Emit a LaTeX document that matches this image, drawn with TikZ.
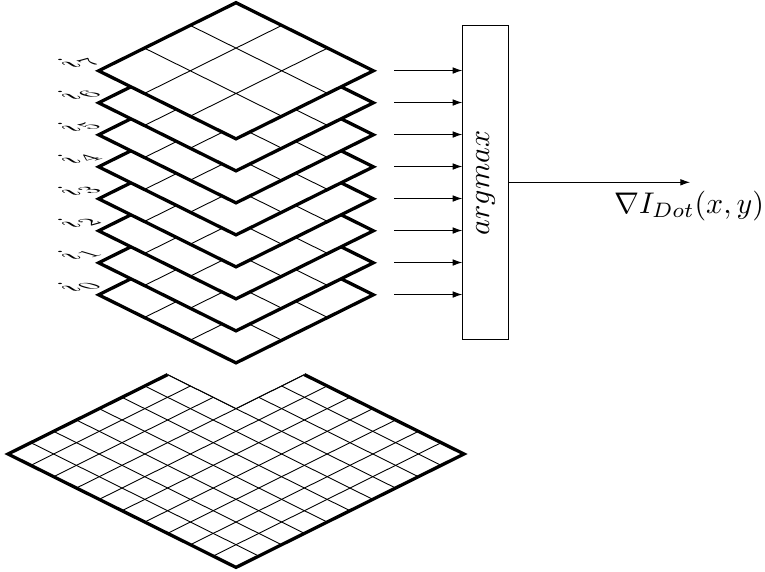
\documentclass[tikz,border=0pt]{standalone}
\usetikzlibrary{arrows.meta}

\begin{document}
\begin{tikzpicture}[x=0.11765mm,y=-0.11765mm,
          every node/.style={font=\normalsize},
          layeredge/.style={line width=1.1pt,line join=miter},
          gridline/.style={line width=0.3pt},
          feed/.style={line width=0.3pt,-{Latex[length=3.2pt,width=2.2pt]}},
          planelabel/.style={cm={1.15,0.32,-1.15,0.34,(0,0)},inner sep=0pt},
        ]
          \useasboundingbox (0,0) rectangle (765,571);
          % dense lower plane
          \begin{scope}[shift={(236,340.6)},x={(2.682mm,-1.334mm)},y={(-2.682mm,-1.334mm)}]
            \foreach \i in {1,2} {
              \draw[gridline] (\i,3) -- (\i,10);
              \draw[gridline] (3,\i) -- (10,\i);
            }
            \foreach \i in {3,...,9} {
              \draw[gridline] (\i,0) -- (\i,10);
              \draw[gridline] (0,\i) -- (10,\i);
            }
            \draw[gridline] (0,3) -- (3,3) -- (3,0);
            \draw[layeredge] (0,3) -- (0,10) -- (10,10) -- (10,0) -- (3,0);
          \end{scope}
          % stack of coarse planes
          \foreach \k in {0,...,7} {
            \begin{scope}[shift={(236,{2.7+32*(7-\k)})},x={(5.388mm,-2.670mm)},y={(-5.388mm,-2.670mm)}]
              \fill[white] (0,0) -- (3,0) -- (3,3) -- (0,3) -- cycle;
              \draw[gridline] (1,0) -- (1,3) (2,0) -- (2,3) (0,1) -- (3,1) (0,2) -- (3,2);
              \draw[layeredge] (0,0) -- (3,0) -- (3,3) -- (0,3) -- cycle;
            \end{scope}
            \node[planelabel] (label\k) at (78,{286-32*\k}) {$i_\k$};
          }
          % selection box
          \node[draw,line width=0.3pt,minimum width=15.24pt,minimum height=105.1pt,inner sep=0pt] (argbox) at (485.5,182.8) {};
          \node[rotate=90] (argname) at (argbox.center) {$argmax$};
          \foreach \k in {0,...,7} {
            \coordinate (in\k) at (394,{294.5-32*\k});
            \draw[feed] (in\k) -- (argbox.west |- in\k);
          }
          \coordinate (out) at (690,182.3);
          \draw[feed] (argbox.east |- out) -- (out);
          \node (outname) at (689,206) {$\nabla I_{Dot}(x,y)$};
        \end{tikzpicture}
\end{document}
